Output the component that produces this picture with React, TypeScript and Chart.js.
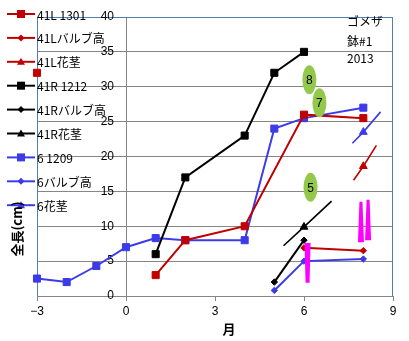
import React, { useEffect, useRef } from 'react';
import { Chart, registerables } from 'chart.js';

Chart.register(...registerables);

// ---- data ----
const seriesLabels = ['41L 1301', '41Lバルブ高', '41L花茎', '41R 1212', '41Rバルブ高', '41R花茎', '6 1209', '6バルブ高', '6花茎'];

const l1301X = [-3, -2, 1, 2, 4, 6, 8];
const l1301Y = [32, null, 3, 8, 10, 26, 25.5];
const lBulbX = [6, 8];
const lBulbY = [6.9, 6.5];
const lStalkX = [7.67, 8.0, 8.44];
const lStalkY = [16.6, 18.6, 21.6];

const r1212X = [1, 2, 4, 5, 6];
const r1212Y = [6, 17, 23, 32, 35];
const rBulbX = [5, 6];
const rBulbY = [2, 8];
const rStalkX = [5.31, 6.0, 6.93];
const rStalkY = [7.2, 9.9, 13.6];

const s1209X = [-3, -2, -1, 0, 1, 2, 4, 5, 6, 8];
const s1209Y = [2.5, 2, 4.3, 7, 8.3, 8, 8, 24, 25.5, 27];
const sBulbX = [5, 6, 8];
const sBulbY = [0.8, 5, 5.3];
const sStalkX = [7.63, 8.0, 8.58];
const sStalkY = [21.9, 23.5, 26.4];

const xMin = -3;
const xMax = 9;
const xStep = 3;
const yMin = 0;
const yMax = 40;
const yStep = 5;

const noteLabels = ['8', '7', '5'];
const noteX = [6.18, 6.52, 6.22];
const noteY = [31.0, 27.7, 15.6];

const markX = [6.12, 7.92, 8.16];
const markTop = [7.6, 13.5, 13.8];
const markBottom = [1.9, 7.7, 8.0];

const titleLines = ['ゴメザ', '鉢#1', '2013'];
const yTitle = '全長(cm)';
const xTitle = '月';

// ---- styles ----
const RED = '#C00000';
const BLACK = '#000000';
const BLUE = '#3B3BEA';
const GRID = '#868686';
const FRAME = '#4F7FAF';
const JP = '"Noto Sans CJK JP", "Liberation Sans", sans-serif';
const NUM = '"Liberation Sans", sans-serif';

const pts = (xs: number[], ys: (number | null)[]) => xs.map((x, i) => ({ x, y: ys[i] }));

type Mk = 'rect' | 'rectRot' | 'triangle';

const mkDs = (label: string, xs: number[], ys: (number | null)[], color: string, style: Mk, stalk = false) => {
  const r = style === 'rect' ? 5 : style === 'rectRot' ? 3.2 : 4.5;
  return {
    label,
    data: pts(xs, ys),
    borderColor: color,
    backgroundColor: color,
    pointBackgroundColor: color,
    pointBorderColor: color,
    borderWidth: stalk ? 1.6 : 2,
    pointStyle: style,
    pointRadius: stalk ? xs.map((_, i) => (i === 1 ? r : 0)) : r,
    pointBorderWidth: 1,
    tension: 0,
    spanGaps: false,
    clip: false,
    _mk: style,
  };
};

function drawMarker(ctx: CanvasRenderingContext2D, style: Mk, x: number, y: number, color: string) {
  ctx.fillStyle = color;
  ctx.beginPath();
  if (style === 'rect') {
    ctx.rect(x - 4, y - 4, 8, 8);
  } else if (style === 'rectRot') {
    ctx.moveTo(x, y - 3.5);
    ctx.lineTo(x + 3.5, y);
    ctx.lineTo(x, y + 3.5);
    ctx.lineTo(x - 3.5, y);
    ctx.closePath();
  } else {
    ctx.moveTo(x, y - 4);
    ctx.lineTo(x + 4, y + 3);
    ctx.lineTo(x - 4, y + 3);
    ctx.closePath();
  }
  ctx.fill();
}

const overlay = {
  id: 'overlay',
  beforeDatasetsDraw(chart: any) {
    const { ctx, chartArea: a } = chart;
    const xs = chart.scales.x;
    const ys = chart.scales.y;
    ctx.save();
    ctx.strokeStyle = FRAME;
    ctx.lineWidth = 1;
    ctx.beginPath();
    ctx.moveTo(Math.round(a.left) + 0.5, a.bottom);
    ctx.lineTo(Math.round(a.left) + 0.5, Math.round(a.top) + 0.5);
    ctx.lineTo(Math.round(a.right) - 0.5, Math.round(a.top) + 0.5);
    ctx.lineTo(Math.round(a.right) - 0.5, a.bottom);
    ctx.stroke();
    // y tick labels placed left of the axis that crosses at x = 0
    const ax = xs.getPixelForValue(0);
    ctx.fillStyle = '#000';
    ctx.font = '12px ' + NUM;
    ctx.textAlign = 'right';
    ctx.textBaseline = 'middle';
    ys.ticks.forEach((t: any) => {
      ctx.fillText(String(t.value), ax - 12, ys.getPixelForValue(t.value));
    });
    ctx.restore();
  },
  afterDatasetsDraw(chart: any) {
    const { ctx } = chart;
    const xs = chart.scales.x;
    const ys = chart.scales.y;
    ctx.save();
    // magenta stalk marks
    const topW = [6, 3, 3];
    const botW = [4, 6, 6];
    ctx.fillStyle = '#FF00FF';
    markX.forEach((mx, i) => {
      const px = xs.getPixelForValue(mx);
      const t = ys.getPixelForValue(markTop[i]);
      const b = ys.getPixelForValue(markBottom[i]);
      ctx.beginPath();
      ctx.moveTo(px - topW[i] / 2, t);
      ctx.lineTo(px + topW[i] / 2, t);
      ctx.lineTo(px + botW[i] / 2, b);
      ctx.lineTo(px - botW[i] / 2, b);
      ctx.closePath();
      ctx.fill();
    });
    // green notes
    noteLabels.forEach((lab, i) => {
      const px = xs.getPixelForValue(noteX[i]);
      const py = ys.getPixelForValue(noteY[i]);
      ctx.fillStyle = '#92C94B';
      ctx.beginPath();
      ctx.ellipse(px, py, 7, 14.5, 0, 0, Math.PI * 2);
      ctx.fill();
      ctx.fillStyle = '#000';
      ctx.font = '12px ' + NUM;
      ctx.textAlign = 'center';
      ctx.textBaseline = 'middle';
      ctx.fillText(lab, px, py + 1);
    });
    ctx.restore();
  },
  afterDraw(chart: any) {
    const { ctx } = chart;
    ctx.save();
    // legend
    chart.data.datasets.forEach((ds: any, i: number) => {
      const y = 14 + i * 23.9;
      ctx.strokeStyle = ds.borderColor;
      ctx.lineWidth = 2;
      ctx.beginPath();
      ctx.moveTo(7, y);
      ctx.lineTo(35, y);
      ctx.stroke();
      drawMarker(ctx, ds._mk, 21, y, ds.borderColor);
      ctx.fillStyle = '#000';
      ctx.font = '12px ' + JP;
      ctx.textAlign = 'left';
      ctx.textBaseline = 'middle';
      ctx.fillText(ds.label, 37, y + 1);
    });
    // top-right note
    ctx.font = '12px ' + JP;
    ctx.textAlign = 'left';
    ctx.textBaseline = 'middle';
    const ty = [21, 41, 58];
    titleLines.forEach((t, i) => ctx.fillText(t, 347, ty[i]));
    // axis titles
    ctx.font = 'bold 13px ' + JP;
    ctx.textAlign = 'center';
    ctx.textBaseline = 'middle';
    ctx.fillText(xTitle, 229, 329);
    ctx.save();
    ctx.translate(17, 229);
    ctx.rotate(-Math.PI / 2);
    ctx.fillText(yTitle, 0, 0);
    ctx.restore();
    ctx.restore();
  },
};

export default function App() {
  const ref = useRef<HTMLCanvasElement>(null);
  useEffect(() => {
    if (!ref.current) return;
    const chart = new Chart(ref.current, {
      type: 'line',
      data: {
        datasets: [
          mkDs(seriesLabels[0], l1301X, l1301Y, RED, 'rect'),
          mkDs(seriesLabels[1], lBulbX, lBulbY, RED, 'rectRot'),
          mkDs(seriesLabels[2], lStalkX, lStalkY, RED, 'triangle', true),
          mkDs(seriesLabels[3], r1212X, r1212Y, BLACK, 'rect'),
          mkDs(seriesLabels[4], rBulbX, rBulbY, BLACK, 'rectRot'),
          mkDs(seriesLabels[5], rStalkX, rStalkY, BLACK, 'triangle', true),
          mkDs(seriesLabels[6], s1209X, s1209Y, BLUE, 'rect'),
          mkDs(seriesLabels[7], sBulbX, sBulbY, BLUE, 'rectRot'),
          mkDs(seriesLabels[8], sStalkX, sStalkY, BLUE, 'triangle', true),
        ] as any,
      },
      options: {
        animation: false,
        responsive: false,
        devicePixelRatio: 1,
        layout: { padding: { left: 37, right: 16, top: 17, bottom: 0 } },
        plugins: { legend: { display: false }, tooltip: { enabled: false } },
        scales: {
          x: {
            type: 'linear',
            min: xMin,
            max: xMax,
            position: 'bottom',
            grid: { drawOnChartArea: false, drawTicks: true, tickLength: 5, color: GRID },
            border: { color: GRID },
            ticks: {
              stepSize: xStep,
              color: '#000',
              padding: 3,
              font: { family: NUM, size: 12 },
              callback: (v: any) => String(v).replace('-', '−'),
            },
            afterFit: (s: any) => {
              s.height = 45;
            },
          },
          y: {
            type: 'linear',
            min: yMin,
            max: yMax,
            position: { x: 0 } as any,
            grid: { color: GRID, tickLength: 5 },
            border: { color: GRID },
            ticks: {
              stepSize: yStep,
              color: 'rgba(0,0,0,0)',
              font: { family: NUM, size: 12 },
            },
          },
        },
      } as any,
      plugins: [overlay],
    });
    return () => chart.destroy();
  }, []);
  return (
    <div style={{ position: 'absolute', left: 0, top: 0, width: 409, height: 341, background: '#fff' }}>
      <canvas ref={ref} width={409} height={341} />
    </div>
  );
}
